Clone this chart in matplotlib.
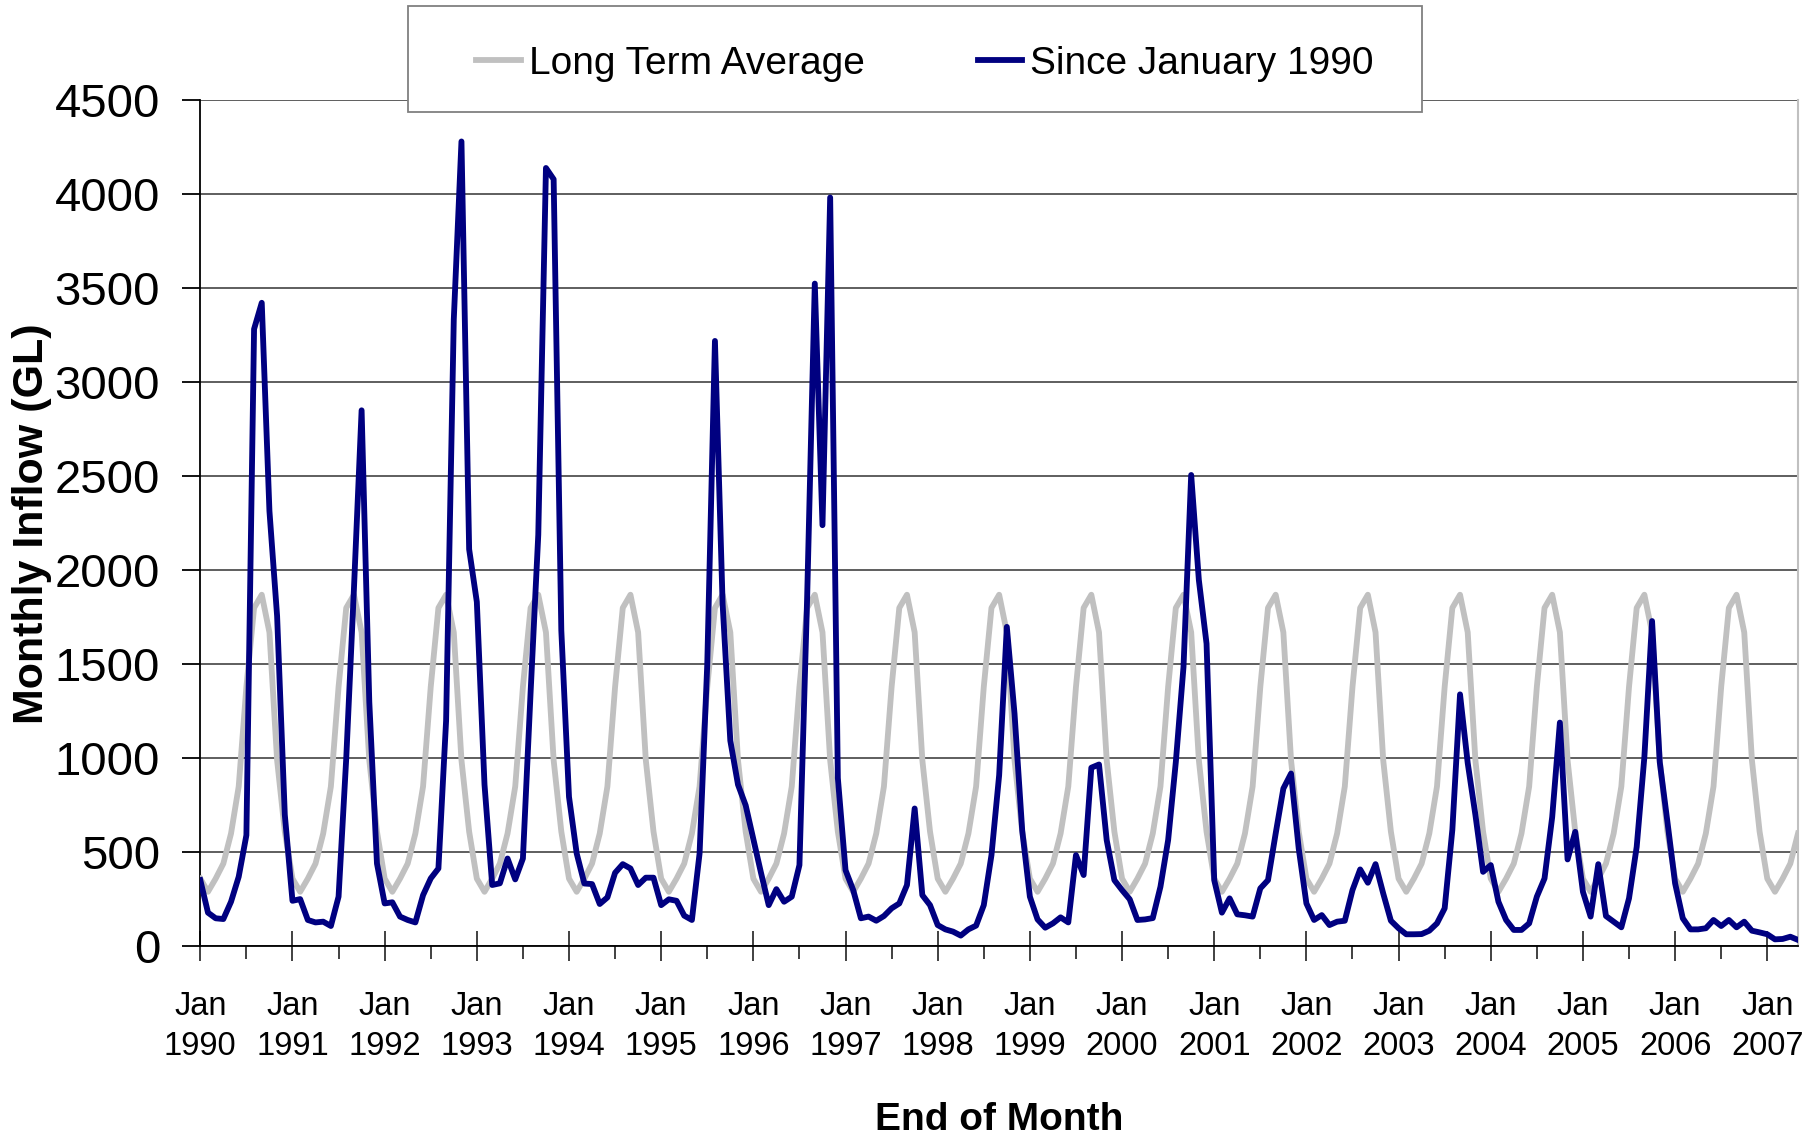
import matplotlib
matplotlib.use('Agg')
import matplotlib.pyplot as plt
import numpy as np
from matplotlib.ticker import MultipleLocator
from matplotlib.patches import Rectangle

plt.rcParams['font.family'] = ['Liberation Sans', 'DejaVu Sans']

# monthly inflow (GL), Jan..Dec
flow_1990 = [352, 179, 149, 145, 237, 370, 591, 3283, 3423, 2316, 1756, 700]
flow_1991 = [242, 251, 140, 127, 131, 108, 264, 1000, 1900, 2851, 1300, 440]
flow_1992 = [228, 234, 158, 140, 127, 272, 361, 414, 1200, 3334, 4281, 2112]
flow_1993 = [1832, 860, 326, 335, 467, 356, 467, 1350, 2189, 4140, 4080, 1680]
flow_1994 = [795, 494, 334, 331, 225, 260, 391, 437, 414, 326, 365, 365]
flow_1995 = [219, 250, 242, 163, 140, 494, 1500, 3220, 1820, 1094, 860, 750]
flow_1996 = [570, 390, 219, 304, 237, 264, 432, 1850, 3525, 2240, 3983, 895]
flow_1997 = [405, 299, 149, 158, 136, 161, 202, 228, 326, 733, 272, 219]
flow_1998 = [113, 90, 78, 57, 90, 110, 219, 485, 910, 1699, 1238, 617]
flow_1999 = [264, 143, 99, 122, 154, 127, 485, 379, 950, 967, 565, 352]
flow_2000 = [299, 250, 140, 143, 150, 317, 565, 980, 1486, 2507, 1948, 1610]
flow_2001 = [352, 179, 255, 170, 165, 158, 308, 352, 600, 839, 919, 520]
flow_2002 = [228, 140, 166, 113, 131, 136, 299, 409, 338, 437, 281, 136]
flow_2003 = [96, 64, 64, 65, 83, 122, 202, 620, 1340, 975, 700, 396]
flow_2004 = [432, 237, 140, 87, 87, 122, 264, 361, 688, 1190, 462, 609]
flow_2005 = [290, 158, 437, 161, 131, 101, 255, 529, 1007, 1730, 980, 662]
flow_2006 = [335, 149, 90, 90, 96, 140, 108, 140, 101, 131, 83, 74]
flow_2007 = [64, 37, 39, 51, 34]

# long term average for each calendar month
lta_monthly = [360, 290, 360, 440, 600, 850, 1380, 1800, 1870, 1670, 990, 610]

years = list(range(1990, 2008))
tick_labels = ['Jan\n%d' % y for y in years]

since_1990 = (flow_1990 + flow_1991 + flow_1992 + flow_1993 + flow_1994 + flow_1995
              + flow_1996 + flow_1997 + flow_1998 + flow_1999 + flow_2000 + flow_2001
              + flow_2002 + flow_2003 + flow_2004 + flow_2005 + flow_2006 + flow_2007)
n = len(since_1990)
months = np.arange(n)
long_term = np.tile(lta_monthly, len(years))[:n]

W, H = 1816, 1136
fig = plt.figure(figsize=(W / 100, H / 100), dpi=100)
left, right, top, bottom = 200.3, 1798, 100.3, 946.3
ax = fig.add_axes([left / W, 1 - bottom / H, (right - left) / W, (bottom - top) / H])

ax.plot(months, long_term, color='#C0C0C0', lw=4.2, label='Long Term Average', zorder=3)
ax.plot(months, since_1990, color='#000080', lw=4.2, label='Since January 1990', zorder=4)

ax.set_xlim(0, n - 1)
ax.set_ylim(0, 4500)
ax.yaxis.set_major_locator(MultipleLocator(500))
ax.set_xticks(range(0, n, 12))
ax.set_xticklabels(tick_labels[:len(range(0, n, 12))], linespacing=1.4)
ax.set_xticks(range(6, n, 12), minor=True)

ax.grid(axis='y', color='#333333', lw=1.1)
ax.set_axisbelow(True)
ax.spines['top'].set_visible(False)
ax.spines['right'].set_color('#C0C0C0')
ax.spines['right'].set_linewidth(1.5)
for s in ['left', 'bottom']:
    ax.spines[s].set_linewidth(1.3)
    ax.spines[s].set_color('black')

ax.tick_params(axis='x', which='major', direction='inout', length=22, width=1.3,
               labelsize=23.5, pad=21, color='#333333')
ax.tick_params(axis='x', which='minor', direction='out', length=9, width=1.3, color='#333333')
ax.tick_params(axis='y', direction='out', length=13, width=1.3, labelsize=34, pad=16)

ax.set_ylabel('Monthly Inflow (GL)', fontsize=31, fontweight='bold')
ax.yaxis.set_label_coords((52 - left) / (right - left), 0.5)
ax.set_xlabel('End of Month', fontsize=28, fontweight='bold')
ax.xaxis.set_label_coords(0.5, -(1102 - bottom) / (bottom - top))

# legend box sits over the top of the plot
fig.patches.append(Rectangle((408 / W, 1 - 112 / H), (1422 - 408) / W, (112 - 6) / H,
                             transform=fig.transFigure, facecolor='white',
                             edgecolor='#808080', lw=1.3, zorder=5))
leg = fig.legend(loc='center', bbox_to_anchor=(925 / W, 1 - 64 / H), ncol=2,
                 frameon=False, fontsize=28, handlelength=1.15, handletextpad=0.2,
                 columnspacing=2.9, borderpad=0)
leg.set_zorder(6)

fig.savefig('out.png', dpi=100)
